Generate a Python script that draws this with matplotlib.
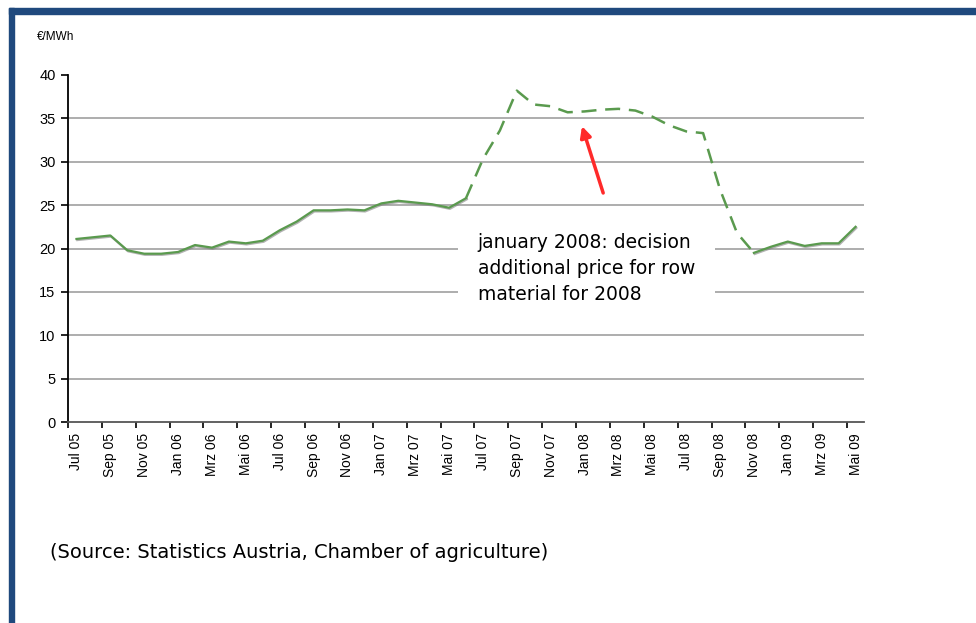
import matplotlib
matplotlib.use("Agg")
import matplotlib.pyplot as plt
import matplotlib.patheffects as pe
from matplotlib.patches import Rectangle
import numpy as np

# monthly prices, Jul 05 .. Mai 09 (EUR/MWh)
month_names = ["Jan", "Feb", "Mrz", "Apr", "Mai", "Jun", "Jul", "Aug", "Sep", "Okt", "Nov", "Dez"]
prices = [21.1, 21.3, 21.5, 19.8, 19.4, 19.4, 19.6, 20.4, 20.1, 20.8, 20.6, 20.9,
          22.1, 23.1, 24.4, 24.4, 24.5, 24.4, 25.2, 25.5, 25.3, 25.1, 24.7, 25.8,
          30.3, 33.6, 38.2, 36.6, 36.4, 35.7, 35.8, 36.0, 36.1, 35.9, 35.2, 34.2,
          33.5, 33.3, 26.8, 21.8, 19.5, 20.2, 20.8, 20.3, 20.6, 20.6, 22.5]
dashed_from = 23   # Jun 07
dashed_to = 40     # Nov 08
y_ticks = [0, 5, 10, 15, 20, 25, 30, 35, 40]

# category labels, starting Jul 05
labels = []
for i in range(len(prices)):
    mi = (i + 6) % 12
    year = 5 + (i + 6) // 12
    labels.append(f"{month_names[mi]} {year:02d}")

x = np.arange(len(prices))
green = "#5a9a4e"

fig = plt.figure(figsize=(9.76, 6.23), dpi=100)
fig.patch.set_facecolor("white")

# blue frame
fig.patches.append(Rectangle((9 / 976, 1 - 14 / 623), 1, 6 / 623, transform=fig.transFigure,
                             color="#1f497d", zorder=0))
fig.patches.append(Rectangle((9 / 976, 0), 5 / 976, 1 - 8 / 623, transform=fig.transFigure,
                             color="#1f497d", zorder=0))

ax = fig.add_axes([68 / 976, 1 - 422 / 623, (864 - 68) / 976, (422 - 75) / 623])

for yv in y_ticks[1:-1]:
    ax.axhline(yv, color="#a0a0a0", lw=1.2, zorder=1)

shadow = [pe.SimpleLineShadow(offset=(0.6, -0.8), shadow_color="#808080", alpha=0.6), pe.Normal()]
ax.plot(x[:dashed_from + 1], prices[:dashed_from + 1], color=green, lw=1.6,
        path_effects=shadow, zorder=3)
ax.plot(x[dashed_from:dashed_to + 1], prices[dashed_from:dashed_to + 1], color=green, lw=1.8,
        dashes=(6, 3.5), zorder=3)
ax.plot(x[dashed_to:], prices[dashed_to:], color=green, lw=1.6,
        path_effects=shadow, zorder=3)

ax.set_xlim(-0.5, len(prices) - 0.5)
ax.set_ylim(0, 40)
ax.set_yticks(y_ticks)
ax.set_yticklabels([str(v) for v in y_ticks], fontsize=10.5, family="Liberation Sans")
ax.set_xticks(x[::2])
ax.set_xticklabels(labels[::2], rotation=90, fontsize=10, family="Liberation Sans")
ax.set_xticks(np.arange(-0.5, len(prices) - 1, 2), minor=True)
ax.tick_params(axis="x", which="major", length=0, pad=8)
ax.tick_params(axis="x", which="minor", length=4, width=1.2, direction="out")
ax.tick_params(axis="y", length=5, width=1.2, direction="out", pad=4)

for s in ["top", "right"]:
    ax.spines[s].set_visible(False)
ax.spines["left"].set_linewidth(1.3)
ax.spines["bottom"].set_linewidth(1.3)
ax.spines["bottom"].set_color("#555555")

ax.text(23.7, 21.75, "january 2008: decision\nadditional price for row\nmaterial for 2008",
        ha="left", va="top", fontsize=13.5, family="DejaVu Sans", linespacing=1.45,
        bbox=dict(facecolor="white", edgecolor="none", pad=14), zorder=4)

ax.annotate("", xy=(29.85, 34.1), xytext=(31.1, 26.4),
            arrowprops=dict(arrowstyle="-|>", color="#ff2a2a", lw=2.5, mutation_scale=16,
                            shrinkA=0, shrinkB=0), zorder=5)

fig.text(37 / 976, 1 - 37 / 623, "€/MWh", fontsize=8.5, family="Liberation Sans", va="center")
fig.text(50 / 976, 1 - 553 / 623, "(Source: Statistics Austria, Chamber of agriculture)",
         fontsize=14, family="DejaVu Sans", va="center")

fig.savefig("out.png", dpi=100)
